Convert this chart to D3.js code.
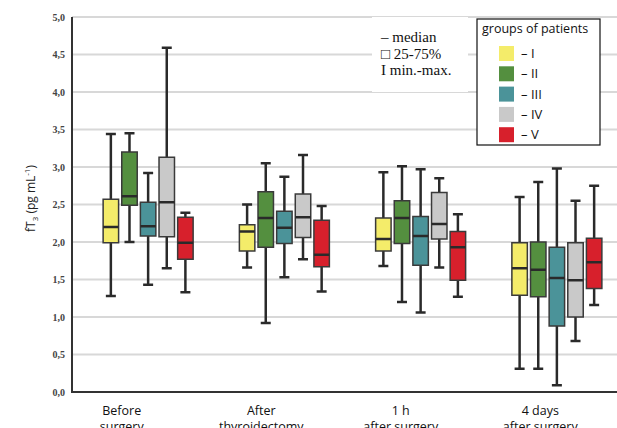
<!DOCTYPE html>
<html>
<head>
<meta charset="utf-8">
<script src="https://cdn.jsdelivr.net/npm/d3@7"></script>
<style>
  body { margin: 0; background: #fff; }
  svg { display: block; }
</style>
</head>
<body>
<div id="chart"></div>
<script>
const stages = ['Before surgery', 'After thyroidectomy', '1 h after surgery', '4 days after surgery']
const stageLines = [['Before', 'surgery'], ['After', 'thyroidectomy'], ['1 h', 'after surgery'], ['4 days', 'after surgery']]
const groups = ['I', 'II', 'III', 'IV', 'V']
const groupColors = ['#f4ec6a', '#548f3f', '#4b9399', '#c9c9c9', '#d7202c']
const yTicks = [0, 0.5, 1, 1.5, 2, 2.5, 3, 3.5, 4, 4.5, 5]

// [min, q1, median, q3, max] per group, one list per stage
const beforeSurgery = [
  [1.28, 1.99, 2.20, 2.57, 3.44],
  [2.00, 2.49, 2.61, 3.20, 3.45],
  [1.43, 2.08, 2.21, 2.53, 2.92],
  [1.65, 2.07, 2.53, 3.13, 4.59],
  [1.33, 1.77, 1.99, 2.33, 2.39],
]
const afterThyroidectomy = [
  [1.66, 1.88, 2.14, 2.23, 2.50],
  [0.92, 1.93, 2.32, 2.67, 3.05],
  [1.53, 1.98, 2.19, 2.41, 2.87],
  [1.77, 2.06, 2.33, 2.64, 3.16],
  [1.34, 1.67, 1.83, 2.29, 2.48],
]
const oneHourAfter = [
  [1.68, 1.88, 2.04, 2.32, 2.93],
  [1.20, 1.98, 2.32, 2.55, 3.01],
  [1.06, 1.69, 2.08, 2.34, 2.97],
  [1.66, 2.04, 2.24, 2.66, 2.85],
  [1.27, 1.49, 1.93, 2.14, 2.37],
]
const fourDaysAfter = [
  [0.31, 1.29, 1.65, 1.99, 2.60],
  [0.31, 1.27, 1.63, 2.00, 2.80],
  [0.09, 0.88, 1.52, 1.93, 2.98],
  [0.68, 1.00, 1.49, 1.99, 2.55],
  [1.16, 1.38, 1.73, 2.05, 2.75],
]
const stageValues = [beforeSurgery, afterThyroidectomy, oneHourAfter, fourDaysAfter]

const legendKeyLines = ['\u2013 median', '\u25A1 25-75%', 'I min.-max.']

const width = 617, height = 428
const M = { top: 17, right: 0, bottom: 36, left: 72 }
const W = width - M.left - M.right
const H = height - M.top - M.bottom

const svg = d3.select('#chart').append('svg').attr('width', width).attr('height', height)
const g = svg.append('g').attr('transform', `translate(${M.left},${M.top})`)

const y = d3.scaleLinear().domain([0, 5]).range([H, 0])
const x = d3.scaleBand().domain(stages).range([8, W + 8])
const xLabel = d3.scaleBand().domain(stages).range([-20, W - 7])
const xInner = d3.scaleBand().domain(groups).range([-45, 45]).paddingInner(0.17)
const color = d3.scaleOrdinal().domain(groups).range(groupColors)

// grid
g.append('g').selectAll('line').data(yTicks.filter(t => t > 0)).join('line')
  .attr('x1', 0).attr('x2', W)
  .attr('y1', d => y(d)).attr('y2', d => y(d))
  .attr('stroke', '#d8d8d8').attr('stroke-width', 2)

// y axis labels
const fmt = d => d3.format('.1f')(d).replace('.', ',')
g.append('g').selectAll('text').data(yTicks).join('text')
  .attr('x', -7).attr('y', d => y(d) + 3.5)
  .attr('text-anchor', 'end')
  .style('font', 'bold 10px "Liberation Serif", serif')
  .attr('fill', '#444')
  .text(fmt)

const yl = g.append('text')
  .attr('transform', `translate(-37,${H / 2 - 6}) rotate(-90)`)
  .attr('text-anchor', 'middle')
  .style('font', '12px "Open Sans", sans-serif').attr('fill', '#222')
yl.append('tspan').text('fT')
yl.append('tspan').attr('dy', 3).style('font-size', '8px').text('3')
yl.append('tspan').attr('dy', -3).text(' (pg mL')
yl.append('tspan').attr('dy', -5).style('font-size', '8px').text('-1')
yl.append('tspan').attr('dy', 5).text(')')

// boxes
const boxData = stages.flatMap((s, i) => groups.map((gr, j) => {
  const [min, q1, med, q3, max] = stageValues[i][j]
  return { stage: s, group: gr, min, q1, med, q3, max }
}))
const bw = xInner.bandwidth()
const box = g.append('g').selectAll('g').data(boxData).join('g')
  .attr('transform', d => `translate(${x(d.stage) + x.bandwidth() / 2 + xInner(d.group)},0)`)

box.append('line')
  .attr('x1', bw / 2).attr('x2', bw / 2)
  .attr('y1', d => y(d.min)).attr('y2', d => y(d.max))
  .attr('stroke', '#2a2a2a').attr('stroke-width', 2.5)
box.selectAll('.cap').data(d => [d.min, d.max]).join('line').attr('class', 'cap')
  .attr('x1', bw / 2 - 5).attr('x2', bw / 2 + 5)
  .attr('y1', d => y(d)).attr('y2', d => y(d))
  .attr('stroke', '#2a2a2a').attr('stroke-width', 2.5)
box.append('rect')
  .attr('x', 0).attr('width', bw)
  .attr('y', d => y(d.q3)).attr('height', d => y(d.q1) - y(d.q3))
  .attr('fill', d => color(d.group))
  .attr('stroke', '#3a3a3a').attr('stroke-width', 1.5)
box.append('line')
  .attr('x1', 0).attr('x2', bw)
  .attr('y1', d => y(d.med)).attr('y2', d => y(d.med))
  .attr('stroke', '#2a2a2a').attr('stroke-width', 2.5)

// frame
g.append('path')
  .attr('d', `M0,0V${H}H${W}`)
  .attr('fill', 'none').attr('stroke', '#333').attr('stroke-width', 2)

// x labels
const xl = g.append('g').selectAll('text').data(stages).join('text')
  .attr('x', d => xLabel(d) + xLabel.bandwidth() / 2)
  .attr('y', H + 23)
  .attr('text-anchor', 'middle')
  .style('font', '12.5px "Open Sans", sans-serif').attr('fill', '#111')
xl.selectAll('tspan').data((d, i) => stageLines[i]).join('tspan')
  .attr('x', function () { return d3.select(this.parentNode).attr('x') })
  .attr('dy', (d, i) => i === 0 ? 0 : 16)
  .text(d => d)

// key box (median / quartiles / range)
const key = svg.append('g').attr('transform', 'translate(372,17)')
key.append('rect').attr('width', 96).attr('height', 75).attr('fill', '#fff')
key.selectAll('text').data(legendKeyLines).join('text')
  .attr('x', 9).attr('y', (d, i) => 25 + i * 16.5)
  .style('font', '15px "Liberation Serif", serif').attr('fill', '#111')
  .text(d => d)

// legend
const leg = svg.append('g').attr('transform', 'translate(477,19)')
leg.append('rect').attr('width', 123).attr('height', 126)
  .attr('fill', '#fff').attr('stroke', '#111').attr('stroke-width', 1.2)
leg.append('text').attr('x', 5).attr('y', 14)
  .style('font', '12.5px "Open Sans", sans-serif').attr('fill', '#111')
  .text('groups of patients')
const li = leg.selectAll('.item').data(groups).join('g').attr('class', 'item')
  .attr('transform', (d, i) => `translate(22,${27 + i * 20.3})`)
li.append('rect').attr('width', 15).attr('height', 15).attr('fill', d => color(d))
li.append('text').attr('x', 22).attr('y', 12)
  .style('font', '13px "Open Sans", sans-serif').attr('fill', '#111')
  .text(d => '\u2013 ' + d)
</script>
</body>
</html>
